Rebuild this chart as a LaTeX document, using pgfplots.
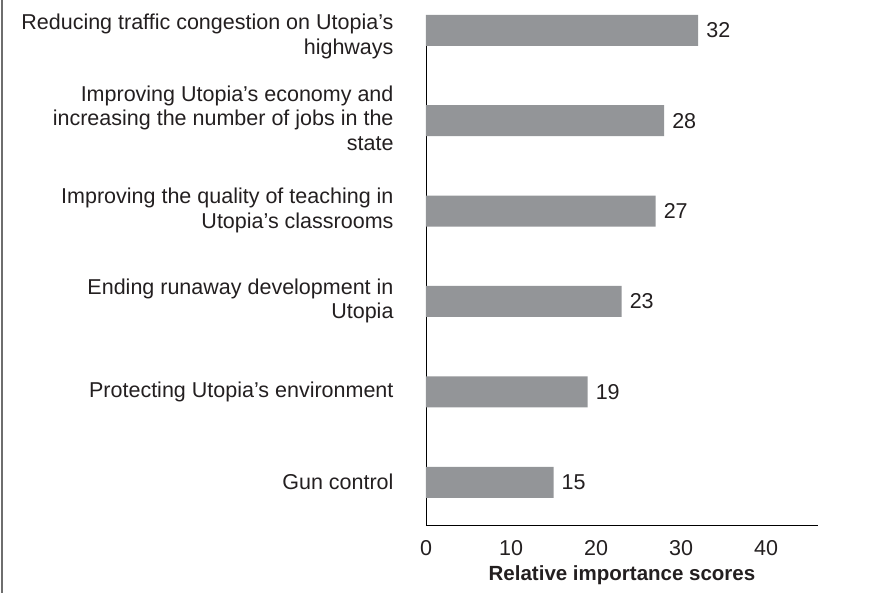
\documentclass[border=0pt]{standalone}
\usepackage{fontspec}
\setmainfont{Liberation Sans}
\usepackage{pgfplots}
\pgfplotsset{compat=1.18}
\definecolor{bargray}{HTML}{939598}
\definecolor{txt}{HTML}{231F20}
\definecolor{framegray}{HTML}{6E6E6E}
\newcommand\lab{\fontsize{21.5bp}{24.5bp}\selectfont}
\newcommand\tlab{\fontsize{20.5bp}{24.5bp}\selectfont}
\newcommand\ml[1]{\begin{tabular}{@{}r@{}}#1\end{tabular}}
\begin{document}
\begin{tikzpicture}
\useasboundingbox (-426bp,-68bp) rectangle (448bp,525bp);
\draw[framegray, line width=1.5bp] (-424bp,-68bp) -- (-424bp,525bp);
\begin{axis}[
  at={(0,0)}, anchor=south west,
  scale only axis,
  width=392bp, height=510bp,
  xmin=0, xmax=46.1,
  ymin=-0.473, ymax=5.17,
  axis lines=left,
  axis line style={-, black, line width=0.9bp},
  major tick length=0pt,
  xtick={0,10,20,30,40},
  ytick={0,1,2,3,4},
  yticklabels={
    {Gun control},
    {Protecting Utopia’s environment},
    {\ml{Ending runaway development in\\Utopia}},
    {\ml{Improving the quality of teaching in\\Utopia’s classrooms}},
    {\ml{Improving Utopia’s economy and\\increasing the number of jobs in the\\state}}
  },
  extra y ticks={4.925},
  extra y tick labels={{\ml{Reducing traffic congestion on Utopia’s\\highways}}},
  /pgf/number format/assume math mode=true,
  tick label style={font=\lab, text=txt},
  yticklabel style={align=right, xshift=-29bp},
  xticklabel style={yshift=-12bp},
  xlabel={\bfseries Relative importance scores},
  xlabel style={font=\tlab, text=txt, yshift=-3bp},
  clip=false,
]
\addplot[xbar, fill=bargray, draw=none, bar width=31bp,
  point meta=x,
  nodes near coords,
  nodes near coords style={font=\lab, text=txt, anchor=west, inner sep=8bp}]
  coordinates {(15,0) (19,1) (23,2) (27,3) (28,4) (32,5)};
\end{axis}
\end{tikzpicture}
\end{document}
